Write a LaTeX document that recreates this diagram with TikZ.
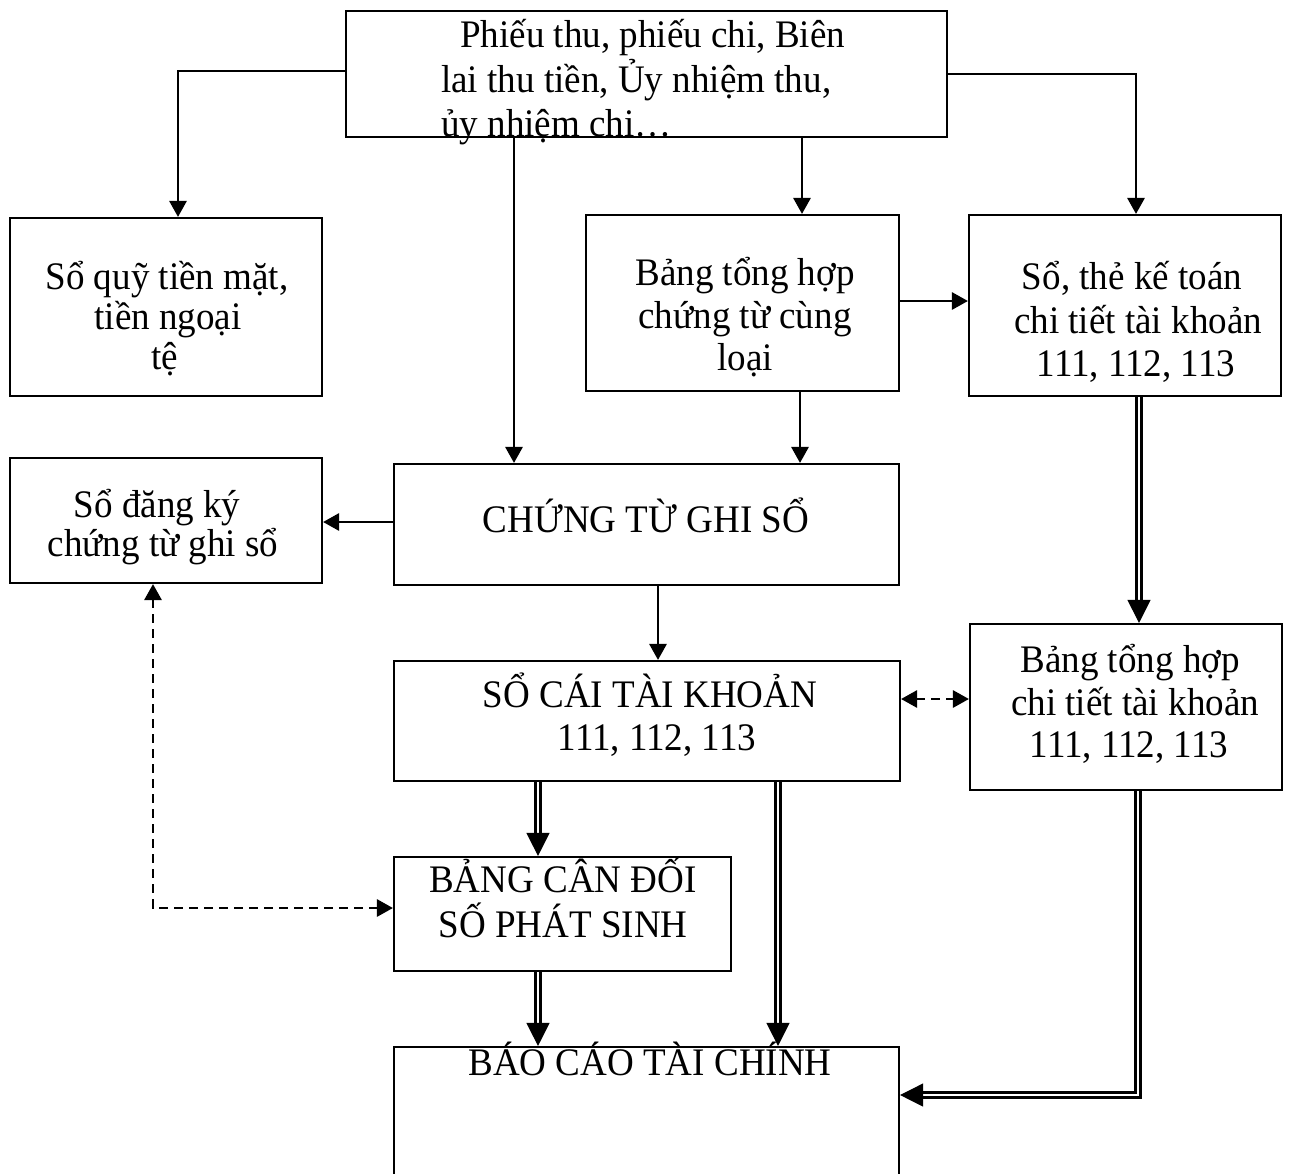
\documentclass[tikz,border=0pt]{standalone}
\usepackage{fontspec}
\setmainfont{Liberation Serif}[FakeStretch=0.95]
\usetikzlibrary{arrows.meta,calc}
\begin{document}
\begin{tikzpicture}[x=1pt,y=-1pt,
  box/.style={draw, line width=2.1pt, inner sep=0pt},
  txt/.style={anchor=base, inner sep=0pt, font=\fontsize{39}{46}\selectfont},
  arr/.style={line width=2.8pt, -{Triangle[length=16pt,width=17pt]}},
  darr/.style={line width=2.8pt, dash pattern=on 9pt off 6pt,
    {Triangle[length=16pt,width=17pt]}-{Triangle[length=16pt,width=17pt]}},
  dbl/.style={draw, line width=2.4pt, double=white, double distance=2.4pt, shorten >=20pt},
  dtip/.style={line width=0.5pt, -{Triangle[length=23pt,width=23pt]}}]

\useasboundingbox (0,0) rectangle (1290,1173);
\clip (0,0) rectangle (1290,1173);

% boxes
\node[box, minimum width=601pt, minimum height=126pt] (top)  at (646.5,74)   {};
\node[box, minimum width=312pt, minimum height=178pt] (sq)   at (166,307)    {};
\node[box, minimum width=313pt, minimum height=176pt] (bth)  at (742.5,303)  {};
\node[box, minimum width=312pt, minimum height=181pt] (stk)  at (1125,305.5) {};
\node[box, minimum width=312pt, minimum height=125pt] (sdk)  at (166,520.5)  {};
\node[box, minimum width=505pt, minimum height=121pt] (ctgs) at (646.5,524.5){};
\node[box, minimum width=506pt, minimum height=120pt] (sc)   at (647,721)    {};
\node[box, minimum width=312pt, minimum height=166pt] (bct)  at (1126,707)   {};
\node[box, minimum width=337pt, minimum height=114pt] (bcd)  at (562.5,914)  {};
\node[box, minimum width=505pt, minimum height=133pt] (bctc) at (646.5,1113.5){};

% texts
\node[txt, anchor=base west] (top-a) at (460,47)  {Phiếu thu, phiếu chi, Biên};
\node[txt, anchor=base west] (top-b) at (441,92)  {lai thu tiền, Ủy nhiệm thu,};
\node[txt, anchor=base west] (top-c) at (441,136) {ủy nhiệm chi…};

\node[txt] (sq-a) at (167,289) {Sổ quỹ tiền mặt,};
\node[txt] (sq-b) at (168,329) {tiền ngoại};
\node[txt] (sq-c) at (165,369) {tệ};

\node[txt] (bth-a) at (745,285) {Bảng tổng hợp};
\node[txt] (bth-b) at (745,328) {chứng từ cùng};
\node[txt] (bth-c) at (745,370) {loại};

\node[txt] (stk-a) at (1132,289) {Sổ, thẻ kế toán};
\node[txt] (stk-b) at (1138,333) {chi tiết tài khoản};
\node[txt] (stk-c) at (1136,376) {111, 112, 113};

\node[txt] (sdk-a) at (157,517) {Sổ đăng ký};
\node[txt] (sdk-b) at (163,556) {chứng từ ghi sổ};

\node[txt] (ctgs-a) at (646,532) {CHỨNG TỪ GHI SỔ};

\node[txt] (sc-a) at (650,707) {SỔ CÁI TÀI KHOẢN};
\node[txt] (sc-b) at (657,750) {111, 112, 113};

\node[txt] (bct-a) at (1130,672) {Bảng tổng hợp};
\node[txt] (bct-b) at (1135,715) {chi tiết tài khoản};
\node[txt] (bct-c) at (1129,757) {111, 112, 113};

\node[txt] (bcd-a) at (563,892) {BẢNG CÂN ĐỐI};
\node[txt] (bcd-b) at (563,937) {SỐ PHÁT SINH};

\node[txt] (bctc-a) at (650,1075) {BÁO CÁO TÀI CHÍNH};

% single arrows
\draw[arr] ([yshift=3pt]top.west) -| ([xshift=12pt]sq.north);
\draw[arr] (top.east) -| ([xshift=11pt]stk.north);
\coordinate (c1) at ([xshift=-132.5pt]ctgs.north);
\draw[arr] (top.south -| c1) -- (c1);
\coordinate (c2) at ([xshift=59.5pt]bth.north);
\draw[arr] (top.south -| c2) -- (c2);
\draw[arr] ([yshift=2pt]bth.east) -- ([yshift=2pt]bth.east -| stk.west);
\coordinate (c3) at ([xshift=57.5pt]bth.south);
\draw[arr] (c3) -- (c3 |- ctgs.north);
\draw[arr] ([yshift=2.5pt]ctgs.west) -- ([yshift=2.5pt]ctgs.west -| sdk.east);
\coordinate (c4) at ([xshift=11.5pt]ctgs.south);
\draw[arr] (c4) -- (c4 |- sc.north);

% dashed two-way arrows
\draw[darr] ([yshift=22pt]sc.east) -- ([yshift=22pt]sc.east -| bct.west);
\coordinate (c5) at ([xshift=-13pt]sdk.south);
\draw[darr] (c5) |- ([yshift=6pt]bcd.west);

% double arrows
\coordinate (d1) at ([xshift=14pt]stk.south);
\coordinate (d1e) at (d1 |- bct.north);
\draw[dbl] (d1) -- (d1e);
\draw[dtip] ([yshift=20pt]d1e) -- (d1e);

\coordinate (d2) at ([xshift=-109pt]sc.south);
\coordinate (d2e) at (d2 |- bcd.north);
\draw[dbl] (d2) -- (d2e);
\draw[dtip] ([yshift=20pt]d2e) -- (d2e);

\coordinate (d3) at ([xshift=131pt]sc.south);
\coordinate (d3e) at (d3 |- bctc.north);
\draw[dbl] (d3) -- (d3e);
\draw[dtip] ([yshift=20pt]d3e) -- (d3e);

\coordinate (d4) at ([xshift=-24.5pt]bcd.south);
\coordinate (d4e) at (d4 |- bctc.north);
\draw[dbl] (d4) -- (d4e);
\draw[dtip] ([yshift=20pt]d4e) -- (d4e);

\coordinate (d5) at ([xshift=12pt]bct.south);
\coordinate (d5e) at ([yshift=18.5pt]bctc.east);
\draw[dbl] (d5) |- (d5e);
\draw[dtip] ([xshift=20pt]d5e) -- (d5e);
\end{tikzpicture}
\end{document}
